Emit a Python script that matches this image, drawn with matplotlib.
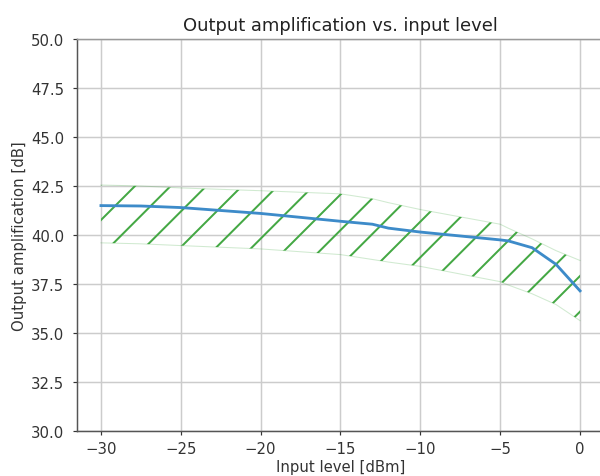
import matplotlib
matplotlib.use("Agg")
import matplotlib.pyplot as plt

# Data
input_level = [-30, -27.5, -25, -20, -15, -13, -12, -10, -5, -4.5, -3, -1.5, 0]
amplification = [41.5, 41.48, 41.4, 41.1, 40.7, 40.55, 40.35, 40.15, 39.75, 39.7, 39.35, 38.5, 37.15]
band_upper = [42.55, 42.5, 42.4, 42.26, 42.1, 41.85, 41.65, 41.3, 40.55, 40.35, 39.8, 39.2, 38.7]
band_lower = [39.6, 39.55, 39.46, 39.29, 39.0, 38.75, 38.62, 38.4, 37.62, 37.45, 37.0, 36.45, 35.63]

xticks = [-30, -25, -20, -15, -10, -5, 0]
yticks = [30.0, 32.5, 35.0, 37.5, 40.0, 42.5, 45.0, 47.5, 50.0]

title = "Output amplification vs. input level"
xlabel = "Input level [dBm]"
ylabel = "Output amplification [dB]"

DPI = 107
plt.rcParams["hatch.linewidth"] = 1.35

fig = plt.figure(figsize=(600 / DPI, 477 / DPI), dpi=DPI)
ax = fig.add_axes([77 / 600, 1 - 432 / 477, (604 - 77) / 600, (432 - 40) / 477])

ax.fill_between(input_level, band_lower, band_upper, facecolor="none",
                edgecolor="#44a844", hatch="/", linewidth=0, zorder=2)
ax.plot(input_level, band_upper, color="#2ca02c", alpha=0.22, linewidth=0.7, zorder=2)
ax.plot(input_level, band_lower, color="#2ca02c", alpha=0.22, linewidth=0.7, zorder=2)
ax.plot(input_level, amplification, color="#3d8bc9", linewidth=1.9, zorder=3)

ax.set_xlim(-31.5, 1.5)
ax.set_ylim(30, 50)
ax.set_xticks(xticks)
ax.set_yticks(yticks)
ax.set_yticklabels([f"{v:.1f}" for v in yticks])
ax.grid(True, color="#cccccc", linewidth=1.0)
ax.set_axisbelow(True)

ax.tick_params(labelsize=10, width=0.8, length=3.0,
               colors="#333333", labelcolor="#333333")
ax.tick_params(axis="x", pad=3.5)
ax.tick_params(axis="y", pad=5.5)
for sp in ax.spines.values():
    sp.set_linewidth(1.0)
ax.spines["left"].set_color("#555555")
ax.spines["bottom"].set_color("#555555")
ax.spines["top"].set_color("#999999")
ax.spines["right"].set_color("#999999")

ax.set_title(title, fontsize=12, color="#222222", pad=6)
ax.set_xlabel(xlabel, fontsize=10, color="#333333", labelpad=2.5)
ax.set_ylabel(ylabel, fontsize=10, color="#333333", labelpad=3)

fig.savefig("out.png", dpi=DPI)
